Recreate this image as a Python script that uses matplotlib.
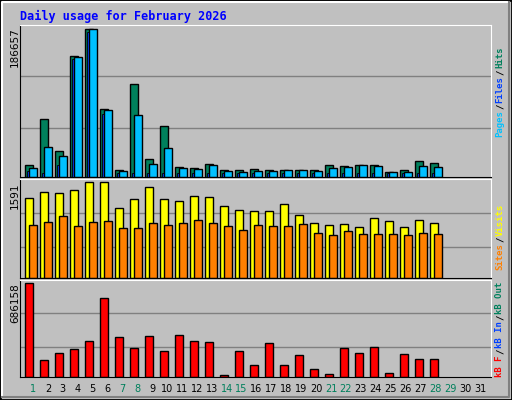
import matplotlib
matplotlib.use("Agg")
import matplotlib.pyplot as plt
from matplotlib.patches import Rectangle
import numpy as np

days = list(range(1, 32))
weekend = [1, 7, 8, 14, 15, 21, 22, 28, 29]
hits = [14780, 73900, 33360, 152450, 186657, 86570, 9290, 116970, 23230, 65030, 13090, 11820, 16890, 9290,
        9290, 10560, 9290, 9290, 9290, 9290, 15620, 14360, 15620, 15620, 6760, 9290, 20690, 18160]
files = [11820, 38430, 27030, 151180, 186500, 85300, 8020, 78970, 16890, 37160, 11820, 10560, 15620, 8020,
         6760, 8020, 8020, 9290, 9290, 8020, 11820, 13090, 15620, 14360, 6760, 6760, 14360, 13090]
pages = [8020, 5490, 15620, 148650, 182850, 80230] + [5490] * 22
visits = [1333, 1436, 1419, 1470, 1591, 1591, 1160, 1315, 1522, 1315, 1281, 1367, 1350, 1195, 1126, 1109,
          1109, 1229, 1057, 919, 885, 902, 850, 1005, 954, 850, 971, 919]
sites = [885, 936, 1040, 867, 936, 954, 833, 833, 919, 885, 919, 971, 919, 867, 798, 885, 867, 867, 902,
         747, 712, 781, 729, 729, 729, 712, 747, 729]
kbf = [686158, 122700, 175300, 205300, 265400, 580900, 295500, 212800, 303000, 190300, 310500, 265400,
       257900, 17500, 190300, 85100, 250400, 85100, 160300, 55100, 25000, 212800, 175300, 220400, 32600,
       167800, 130200, 130200]

W, H = 512, 400
BG = "#c0c0c0"
fig = plt.figure(figsize=(W / 100, H / 100), dpi=100, facecolor=BG)

def rect(x0, y0, x1, y1):
    return [x0 / W, 1 - y1 / H, (x1 - x0) / W, (y1 - y0) / H]

fig.patches.append(Rectangle((0, 0), 1, 1, transform=fig.transFigure, fill=False, ec="black", lw=2))
fig.add_artist(plt.Line2D([2 / W, 2 / W, 1 - 3 / W], [3 / H, 1 - 2 / H, 1 - 2 / H], transform=fig.transFigure, color="white", lw=1.5))
fig.add_artist(plt.Line2D([2 / W, 1 - 3 / W, 1 - 3 / W], [3 / H, 3 / H, 1 - 2 / H], transform=fig.transFigure, color="#808080", lw=1.5))

def mkax(y0, y1, ymax, grid):
    ax = fig.add_axes(rect(20, y0, 491, y1))
    ax.set_facecolor(BG)
    ax.set_xlim(0, 471)
    ax.set_ylim(0, ymax)
    ax.set_xticks([]); ax.set_yticks([])
    for g in grid:
        ax.axhline(g, color="#808080", lw=1, zorder=0)
    for s in ["top", "right"]:
        ax.spines[s].set_color("white")
    for s in ["left", "bottom"]:
        ax.spines[s].set_color("black")
    return ax

n = len(hits)
j = np.arange(n)
ax1 = mkax(25, 177, 192150, [62500, 127100])
ax1.bar(5 + 15 * j, hits, width=7.5, align="edge", color="#00805c", ec="black", lw=1)
ax1.bar(7.3 + 15 * j, pages, width=2.2, align="edge", color="#0040ff", ec="black", lw=0.6)
ax1.bar(9 + 15 * j, files, width=7.5, align="edge", color="#00c0ff", ec="black", lw=1)

ax2 = mkax(179, 278, 1649, [523, 1091])
ax2.bar(5 + 15 * j, visits, width=8, align="edge", color="#ffff00", ec="black", lw=1)
ax2.bar(9.3 + 15 * j, sites, width=7.3, align="edge", color="#ff8000", ec="black", lw=1)

ax3 = mkax(280, 377, 711100, [220400, 468300])
ax3.bar(5.3 + 15 * j, kbf, width=7.3, align="edge", color="#ff0000", ec="black", lw=1)

fig.text(20 / W, 1 - 16 / H, "Daily usage for February 2026", color="#0000ff", fontsize=8.5,
         fontweight="bold", family="DejaVu Sans Mono", va="center", ha="left")

for lab, ytop in [("186657", 27), ("1591", 182), ("686158", 283)]:
    fig.text(15 / W, 1 - ytop / H, lab, rotation=90, fontsize=7.5, ha="center", va="top")

for d in days:
    x = 33 + 14.9 * (d - 1)
    fig.text(x / W, 1 - 389 / H, str(d), fontsize=7, ha="center", va="center",
             color="#00805c" if d in weekend else "black")

fig.canvas.draw()
renderer = fig.canvas.get_renderer()
fs = 6.5

def vlabel(ybottom, parts):
    y = ybottom
    for txt, col in parts:
        t = fig.text(500 / W, 1 - y / H, txt, rotation=90, fontsize=fs, family="DejaVu Sans Mono",
                     fontweight="bold", color=col, ha="center", va="bottom")
        ext = t.get_window_extent(renderer)
        y -= ext.height + 1

S = ("/", "black")
vlabel(137, [("Pages", "#00c0ff"), S, ("Files", "#0040ff"), S, ("Hits", "#00805c")])
vlabel(270, [("Sites", "#ff8000"), S, ("Visits", "#ffff00")])
vlabel(377, [("kB F", "#ff0000"), S, ("kB In", "#0040ff"), S, ("kB Out", "#00805c")])

fig.savefig("out.png", dpi=100, facecolor=BG)
